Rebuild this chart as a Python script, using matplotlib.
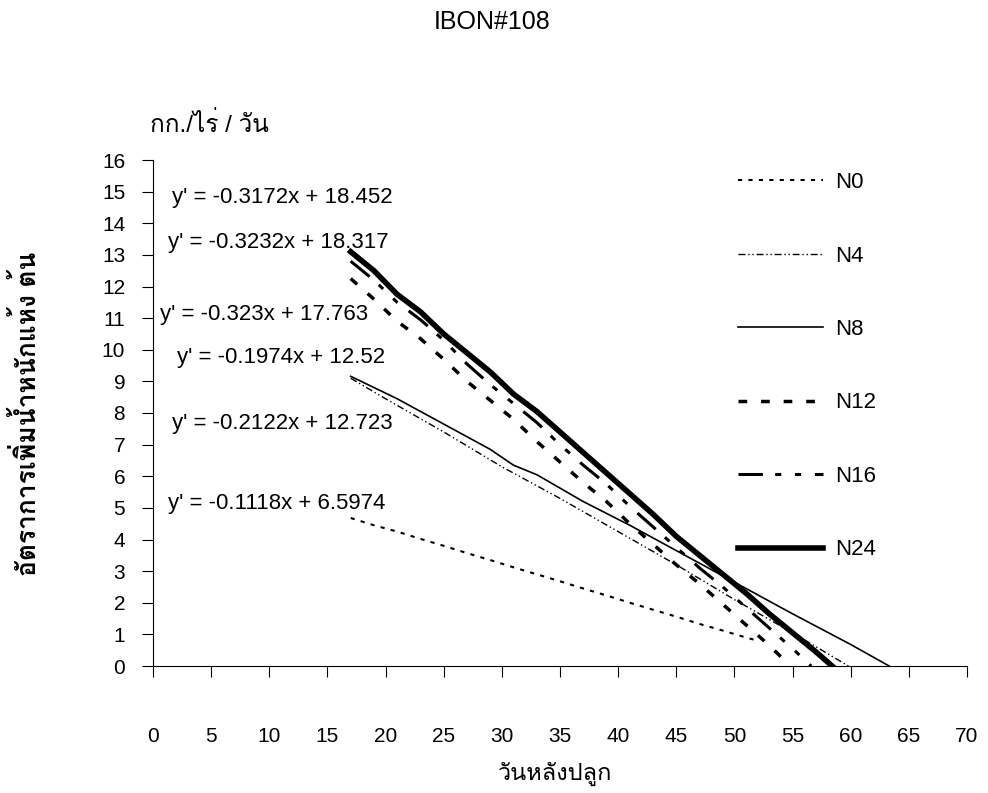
import matplotlib
matplotlib.use("Agg")
import matplotlib.pyplot as plt
from matplotlib import font_manager
from matplotlib.ft2font import FT2Font

# ---------------- data ----------------
title = "IBON#108"
x_label = "วันหลังปลูก"
y_label = "อัตราการเพิ่มน้ำหนักแห้ง ต้น"
unit_label = "กก./ไร่ / วัน"

series_names = ["N0", "N4", "N8", "N12", "N16", "N24"]

n0_x = [17, 19, 21, 23, 25, 27, 29, 31, 33, 35, 37, 39, 41, 43, 45, 47, 49, 51, 52]
n0_y = [4.68, 4.45, 4.25, 4.02, 3.8, 3.57, 3.35, 3.12, 2.9, 2.68, 2.45, 2.23, 2.0, 1.78, 1.56, 1.33, 1.12, 0.9, 0.8]

n4_x = [17, 20, 25, 30, 35, 40, 45, 50, 55, 59.8]
n4_y = [9.1, 8.45, 7.4, 6.3, 5.3, 4.25, 3.2, 2.1, 1.05, 0.0]

n8_x = [17, 21, 25, 29, 31, 33, 37, 41, 45, 50, 55, 60, 63.3]
n8_y = [9.16, 8.45, 7.65, 6.85, 6.35, 6.05, 5.2, 4.45, 3.65, 2.65, 1.65, 0.68, 0.0]

n12_x = [17, 19, 21, 23, 25, 27, 29, 31, 33, 35, 37, 39, 41, 43, 45, 47, 49, 51, 53, 54.8]
n12_y = [12.25, 11.6, 10.9, 10.35, 9.7, 9.0, 8.4, 7.8, 7.1, 6.45, 5.8, 5.2, 4.5, 3.85, 3.2, 2.6, 1.95, 1.3, 0.65, 0.0]

n16_x = [17, 19, 21, 23, 25, 27, 29, 31, 33, 35, 37, 39, 41, 43, 45, 47, 49, 51, 53, 55, 56.6]
n16_y = [12.8, 12.2, 11.5, 10.95, 10.3, 9.55, 8.9, 8.3, 7.7, 7.0, 6.35, 5.75, 5.05, 4.4, 3.75, 3.1, 2.5, 1.85, 1.2, 0.55, 0.0]

n24_x = [17, 19, 21, 23, 25, 27, 29, 31, 33, 35, 37, 39, 41, 43, 45, 47, 49, 51, 53, 55, 57, 58.4]
n24_y = [13.1, 12.5, 11.75, 11.2, 10.5, 9.9, 9.3, 8.6, 8.05, 7.4, 6.75, 6.1, 5.45, 4.8, 4.1, 3.5, 2.9, 2.3, 1.65, 1.05, 0.45, 0.0]

equations = ["y' = -0.3172x + 18.452", "y' = -0.3232x + 18.317", "y' = -0.323x + 17.763",
             "y' = -0.1974x + 12.52", "y' = -0.2122x + 12.723", "y' = -0.1118x + 6.5974"]
eq_x = [1.65, 1.3, 0.6, 2.1, 1.65, 1.3]
eq_y = [14.8, 13.4, 11.13, 9.75, 7.67, 5.14]

x_ticks = list(range(0, 75, 5))
y_ticks = list(range(0, 17, 1))

# ---------------- fonts ----------------
thai_fams = []
for f in font_manager.fontManager.ttflist:
    try:
        cm = FT2Font(f.fname).get_charmap()
        if 0x0E01 in cm and 0x0E49 in cm:
            if f.name not in thai_fams:
                thai_fams.append(f.name)
    except Exception:
        pass

preferred = ["Loma", "Garuda", "Norasi", "Anuphan"]
thai = next((p for p in preferred if p in thai_fams), thai_fams[0] if thai_fams else "DejaVu Sans")
base = "Liberation Sans"
plt.rcParams['font.family'] = [base, thai, 'DejaVu Sans']

# ---------------- figure ----------------
fig = plt.figure(figsize=(9.88, 7.93), dpi=100)
ax = fig.add_axes([153 / 988, 1 - 666 / 793, 814 / 988, 506 / 793])

styles = {
    "N0": dict(color="black", lw=1.5, ls=(0, (2, 3))),
    "N4": dict(color="black", lw=1.0, ls=(0, (5, 2, 1, 2, 1, 2))),
    "N8": dict(color="black", lw=1.2, ls="-"),
    "N12": dict(color="black", lw=2.5, ls=(0, (2.5, 4))),
    "N16": dict(color="black", lw=2.2, ls=(0, (8, 4, 2, 4.5, 2, 4.5))),
    "N24": dict(color="black", lw=4.0, ls="-"),
}
xs = [n0_x, n4_x, n8_x, n12_x, n16_x, n24_x]
ys = [n0_y, n4_y, n8_y, n12_y, n16_y, n24_y]
for name, x, y in zip(series_names, xs, ys):
    ax.plot(x, y, label=name, **styles[name])

ax.set_xlim(0, 70)
ax.set_ylim(0, 16)
ax.set_xticks(x_ticks)
ax.set_yticks(y_ticks)
ax.spines['top'].set_visible(False)
ax.spines['right'].set_visible(False)
ax.tick_params(axis='x', direction='out', length=8, pad=36, labelsize=15)
ax.tick_params(axis='y', direction='out', length=8, pad=12, labelsize=15)

for t, ex, ey in zip(equations, eq_x, eq_y):
    ax.text(ex, ey, t, fontsize=16, ha='left', va='center')

leg = ax.legend(loc='upper left', bbox_to_anchor=(0.719, 0.976), frameon=False,
                fontsize=16, handlelength=3.83, handletextpad=0.55, labelspacing=2.36,
                borderpad=0, borderaxespad=0)

fig.text(492 / 988, 1 - 22 / 793, title, fontsize=18, ha='center', va='center')
fig.text(150 / 988, 1 - 125 / 793, unit_label, fontsize=17.5, ha='left', va='center')
fig.text(27 / 988, 1 - 414 / 793, y_label, fontsize=19, rotation=90, ha='center', va='center', fontweight='bold')
fig.text(555 / 988, 1 - 774 / 793, x_label, fontsize=17, ha='center', va='center')

fig.savefig("out.png", dpi=100)
